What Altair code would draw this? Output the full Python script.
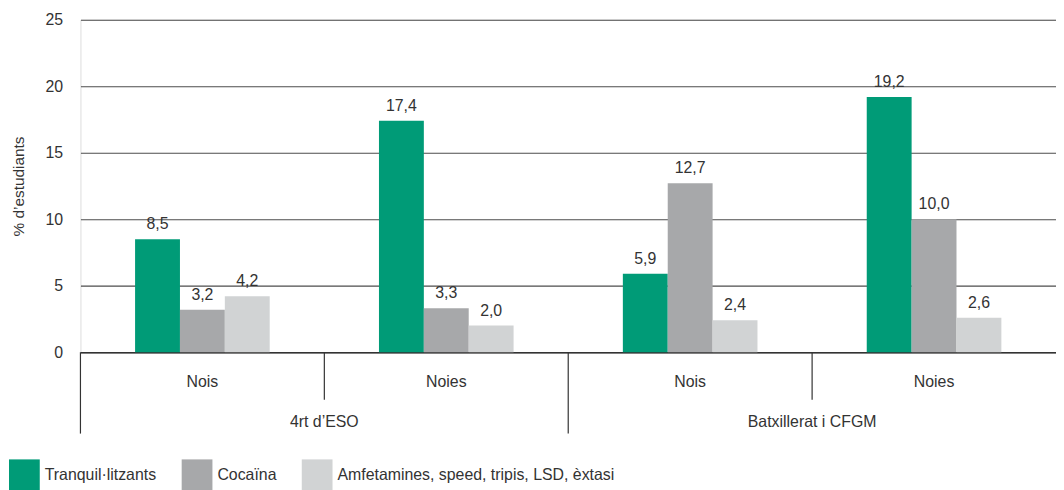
import altair as alt
import pandas as pd

levels = ["4rt d’ESO", "4rt d’ESO", "Batxillerat i CFGM", "Batxillerat i CFGM"]
sexes = ["Nois", "Noies", "Nois", "Noies"]
substances = ["Tranquil·litzants", "Cocaïna", "Amfetamines, speed, tripis, LSD, èxtasi"]
tranq = [8.5, 17.4, 5.9, 19.2]
coca = [3.2, 3.3, 12.7, 10.0]
amfet = [4.2, 2.0, 2.4, 2.6]
colors = ["#009B77", "#A7A8AA", "#D1D3D4"]
y_ticks = [0, 5, 10, 15, 20, 25]

keys = [f"{l}|{s}" for l, s in zip(levels, sexes)]
rows = []
for i, k in enumerate(keys):
    for sub, vals in zip(substances, [tranq, coca, amfet]):
        rows.append({"key": k, "level": levels[i], "sex": sexes[i], "subst": sub, "value": vals[i]})
df = pd.DataFrame(rows)
groups = pd.DataFrame({"key": keys, "level": levels, "sex": sexes})

W, H = 983, 335
BAND = W / 4
GPAD = BAND * 0.224  # empty space on each side of a bar cluster
FONT = "Liberation Sans"
FS = 16
TXT = "#333333"

xaxis = alt.Axis(title=None, labels=False, ticks=False, domain=True,
                 domainColor="#333333", domainWidth=1.5)
xscale = alt.Scale(paddingInner=0, paddingOuter=0)
offscale = alt.Scale(paddingInner=0, paddingOuter=0, range=[GPAD, BAND - GPAD])
yscale = alt.Scale(domain=[0, 25], nice=False, zero=True)


def X(band=0.5):
    return alt.X("key:N", sort=keys, scale=xscale, axis=xaxis, bandPosition=band)


bars = alt.Chart(df).mark_bar().encode(
    x=alt.X("key:N", sort=keys, scale=xscale, axis=xaxis),
    xOffset=alt.XOffset("subst:N", sort=substances, scale=offscale),
    y=alt.Y("value:Q", scale=yscale,
            axis=alt.Axis(values=y_ticks, grid=True, gridColor="#4d4d4d", gridWidth=1.2,
                          domain=False, ticks=False, labelPadding=18,
                          labelFontSize=FS, labelColor=TXT, labelFont=FONT,
                          title="% d’estudiants", titleFontSize=FS - 0.5, titleFontWeight="normal",
                          titleColor=TXT, titleFont=FONT, titlePadding=19)),
    color=alt.Color("subst:N", sort=substances,
                    scale=alt.Scale(domain=substances, range=colors),
                    legend=alt.Legend(title=None, orient="none", legendX=-72, legendY=443,
                                      direction="horizontal", symbolType="square",
                                      symbolSize=961, symbolStrokeWidth=0, symbolOpacity=1,
                                      labelFontSize=FS, labelFont=FONT, labelColor=TXT,
                                      labelLimit=0, labelOffset=5, columnPadding=25,
                                      padding=0)),
)

vlabels = alt.Chart(df).transform_calculate(
    lab="replace(format(datum.value, '.1f'), '.', ',')"
).mark_text(baseline="alphabetic", dy=-10, fontSize=FS, font=FONT, color=TXT).encode(
    x=alt.X("key:N", sort=keys, scale=xscale, axis=xaxis),
    xOffset=alt.XOffset("subst:N", sort=substances, scale=offscale),
    y=alt.Y("value:Q", scale=yscale),
    text="lab:N",
)

sublabels = alt.Chart(groups).mark_text(baseline="middle", fontSize=FS, font=FONT, color=TXT).encode(
    x=X(0.5), y=alt.value(H + 30), text="sex:N"
)

long_sep = alt.Chart(groups).transform_filter("datum.sex == 'Nois'").mark_rule(
    color="#333333", strokeWidth=1.2).encode(x=X(0), y=alt.value(H), y2=alt.value(H + 82))

short_sep = alt.Chart(groups).transform_filter("datum.sex == 'Noies'").mark_rule(
    color="#333333", strokeWidth=1.2).encode(x=X(0), y=alt.value(H), y2=alt.value(H + 48))

grplabels = alt.Chart(groups).transform_filter("datum.sex == 'Nois'").mark_text(
    baseline="middle", fontSize=FS, font=FONT, color=TXT).encode(
    x=X(1), y=alt.value(H + 70), text="level:N"
)

chart = alt.layer(bars, vlabels, sublabels, long_sep, short_sep, grplabels).properties(
    width=W, height=H,
    autosize=alt.AutoSizeParams(type="none"),
    padding={"left": 73, "top": 10, "right": 0, "bottom": 137},
).configure_view(stroke=None).configure(font=FONT)

chart.save("out.html", embed_options={"renderer": "svg", "actions": False})
